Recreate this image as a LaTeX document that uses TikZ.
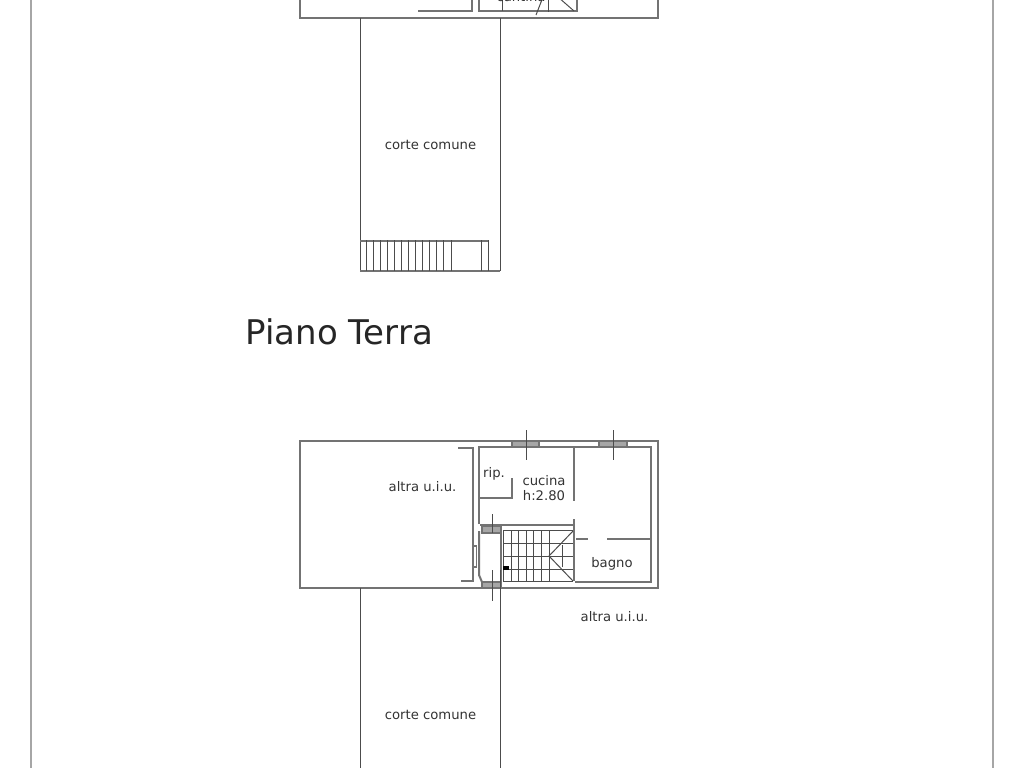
\documentclass[tikz,border=0pt]{standalone}
\usepackage{fontspec}
\setmainfont{DejaVu Sans}
\definecolor{wall}{gray}{0.45}
\definecolor{thin}{gray}{0.3}
\tikzset{
 x=1pt,y=-1pt,
 frame/.style={draw=black!35,line width=1.1pt},
 wallline/.style={draw=wall,line width=2pt},
 heavy/.style={draw=wall,line width=2.6pt},
 thinline/.style={draw=thin,line width=1pt},
 lab/.style={font=\fontsize{13.2}{15.5}\selectfont,text=black!80,inner sep=0pt,align=center},
}
\begin{document}
\begin{tikzpicture}
\useasboundingbox (0,0) rectangle (1024,768);
\clip (0,0) rectangle (1024,768);
\draw[frame] (31,0) -- (31,768);
\draw[frame] (993,0) -- (993,768);
% top plan fragment
\draw[wallline] (300,-5) -- (300,18) -- (658,18) -- (658,-5);
\draw[wallline] (418,11) -- (472,11) -- (472,-5);
\draw[wallline] (479,-5) -- (479,11.5) -- (577,11.5) -- (577,-5);
\draw[thinline] (502,0) -- (502,11);
\draw[thinline] (536,15) -- (543,-3);
\draw[thinline] (548,12) -- (548,-3);
\draw[thinline] (558,-3) -- (574,11);
\node[lab] (topcut) at (521,-3.5) {cantina};
\draw[thinline] (360,18) -- (360,271);
\draw[thinline] (500,18) -- (500,271);
\node[lab] (corte1) at (430.5,145) {corte comune};
% steps of upper court
\draw[wallline] (360,240.5) -- (488,240.5);
\draw[wallline] (360,270.5) -- (500,270.5);
\foreach \xx in {366,373,380,387,394,401,408,415,422,429,436,443,451,481,488}
  \draw[thinline] (\xx,240) -- (\xx,271);
\node[inner sep=0pt,anchor=west,font=\fontsize{34}{38}\selectfont,text=black!85] (title) at (245.5,332) {Piano Terra};
% lower plan: outer walls
\draw[wallline] (300,441) rectangle (658,587.5);
\draw[wallline] (458,448) -- (472.5,448) -- (472.5,581) -- (461,581);
\draw[wallline] (479,524) -- (479,447) -- (650.5,447) -- (650.5,581.5) -- (575,581.5);
\draw[wallline] (479,531) -- (479,575) -- (482,582);
% windows
\draw[wallline,fill=black!35] (512,441) rectangle (539,447);
\draw[wallline,fill=black!35] (599,441) rectangle (627,447);
\draw[thinline] (526,430) -- (526,460);
\draw[thinline] (613,430) -- (613,460);
\draw[wallline,line width=1.4pt] (472.5,546) rectangle (476.5,567);
% interior walls
\draw[heavy] (574,447) -- (574,501);
\draw[heavy] (574,519) -- (574,581);
\draw[heavy] (479,498) -- (512,498) -- (512,478);
\draw[heavy] (576,539) -- (588,539);
\draw[heavy] (607,539) -- (650,539);
\draw[wallline] (480,525) -- (574,525);
% stair
\draw[wallline,fill=black!35] (482,526) rectangle (501,533);
\draw[thinline] (492,514) -- (492,533);
\draw[wallline] (501,533) -- (501,582);
\foreach \xx in {503,511,518,526,533,541,549}
  \draw[thinline] (\xx,530) -- (\xx,581);
\foreach \yy in {530,543,556,569,581}
  \draw[thinline] (503,\yy) -- (573,\yy);
\draw[thinline] (573,531) -- (549,556) -- (573,581);
\draw[thinline] (562,545) -- (562,567);
\fill[thin] (503,566) rectangle (509,570);
% lower entry
\draw[wallline,fill=black!35] (482,582) rectangle (501,587.5);
\draw[thinline] (492,570) -- (492,601);
% court
\draw[thinline] (360,588) -- (360,768);
\draw[thinline] (500,570) -- (500,768);
% labels
\node[lab] (altra1) at (422.5,487) {altra u.i.u.};
\node[lab] (rip) at (494,473.5) {rip.};
\node[lab] (cucina) at (544,488) {cucina\\h:2.80};
\node[lab] (bagno) at (612,564) {bagno};
\node[lab] (altra2) at (614.5,616.5) {altra u.i.u.};
\node[lab] (corte2) at (430.5,715) {corte comune};
\end{tikzpicture}
\end{document}
